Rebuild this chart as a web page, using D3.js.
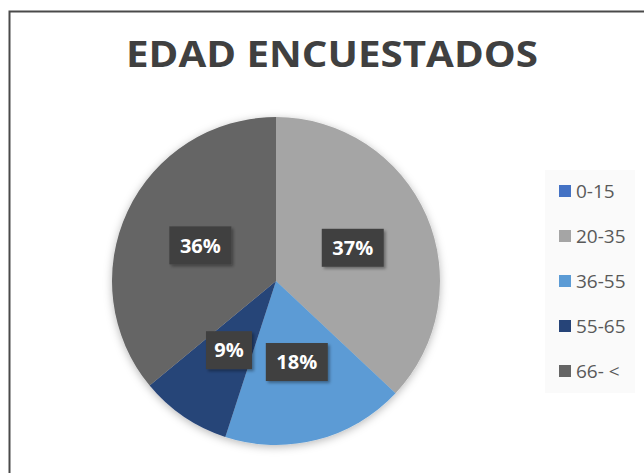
<!DOCTYPE html>
<html>
<head>
<meta charset="utf-8">
<script src="https://cdn.jsdelivr.net/npm/d3@7"></script>
<style>
  body { margin: 0; background: #fff; }
  text { font-family: "Open Sans", "DejaVu Sans", sans-serif; }
</style>
</head>
<body>
<script>
// age groups and their share of respondents (percent)
var categories = ["0-15", "20-35", "36-55", "55-65", "66- <"];
var values = [0, 37, 18, 9, 36];
var colors = ["#4472C4", "#A5A5A5", "#5B9BD5", "#264478", "#656565"];
var chartTitle = "EDAD ENCUESTADOS";

var W = 644, H = 473;
var cx = 276, cy = 281, radius = 164;

var data = categories.map(function(c, i) { return {name: c, value: values[i]}; });
var total = d3.sum(values);

var svg = d3.select("body").append("svg")
    .attr("width", W)
    .attr("height", H);

// soft shadow under the pie
var defs = svg.append("defs");
var f = defs.append("filter").attr("id", "shadow")
    .attr("x", "-20%").attr("y", "-20%").attr("width", "140%").attr("height", "140%");
f.append("feDropShadow").attr("dx", 0).attr("dy", 2)
    .attr("stdDeviation", 4).attr("flood-color", "#000").attr("flood-opacity", 0.28);
var lf = defs.append("filter").attr("id", "lblshadow")
    .attr("x", "-30%").attr("y", "-30%").attr("width", "160%").attr("height", "160%");
lf.append("feDropShadow").attr("dx", 2).attr("dy", 2)
    .attr("stdDeviation", 1.5).attr("flood-color", "#000").attr("flood-opacity", 0.35);

// chart frame (only left and top edges fall inside the picture)
svg.append("path")
    .attr("d", "M9.5," + H + "V11.5H" + W)
    .attr("fill", "none")
    .attr("stroke", "#4a4a4a")
    .attr("stroke-width", 2);

// title
svg.append("text")
    .attr("x", 332)
    .attr("y", 67)
    .attr("text-anchor", "middle")
    .attr("textLength", 412)
    .attr("lengthAdjust", "spacingAndGlyphs")
    .style("font-size", "36px")
    .style("font-weight", "bold")
    .style("fill", "#404040")
    .text(chartTitle);

var color = d3.scaleOrdinal().domain(categories).range(colors);

var pie = d3.pie()
    .sort(null)
    .value(function(d) { return d.value; });

var arc = d3.arc().innerRadius(0).outerRadius(radius);
var labelArc = d3.arc().innerRadius(radius * 0.51).outerRadius(radius * 0.51);

var g = svg.append("g").attr("transform", "translate(" + cx + "," + cy + ")");

var arcs = pie(data);

g.append("g")
    .attr("filter", "url(#shadow)")
  .selectAll("path")
  .data(arcs)
  .enter().append("path")
    .attr("d", arc)
    .attr("fill", function(d) { return color(d.data.name); });

// percentage labels in dark boxes
var lbl = g.selectAll(".lbl")
  .data(arcs.filter(function(d) { return d.data.value > 0; }))
  .enter().append("g")
    .attr("class", "lbl")
    .attr("transform", function(d) {
        var c = labelArc.centroid(d);
        return "translate(" + c[0] + "," + c[1] + ")";
    });

lbl.each(function(d) {
    var s = d3.select(this);
    var txt = Math.round(d.data.value / total * 100) + "%";
    var w = txt.length > 2 ? 62 : 46;
    s.append("rect")
        .attr("x", -w / 2)
        .attr("y", -19)
        .attr("width", w)
        .attr("height", 38)
        .attr("fill", "#404040")
        .attr("filter", "url(#lblshadow)");
    s.append("text")
        .attr("text-anchor", "middle")
        .attr("dy", "0.36em")
        .style("font-size", "20px")
        .style("font-weight", "bold")
        .style("fill", "#fff")
        .text(txt);
});

// legend (faint plot-area style background)
svg.append("rect")
    .attr("x", 545)
    .attr("y", 170)
    .attr("width", 90)
    .attr("height", 223)
    .attr("fill", "#fafafa");

var legend = svg.append("g").attr("transform", "translate(559,191)");
var item = legend.selectAll(".item")
  .data(categories)
  .enter().append("g")
    .attr("class", "item")
    .attr("transform", function(d, i) { return "translate(0," + (i * 45) + ")"; });

item.append("rect")
    .attr("x", 0)
    .attr("y", -6)
    .attr("width", 12)
    .attr("height", 12)
    .attr("fill", function(d) { return color(d); });

item.append("text")
    .attr("x", 17)
    .attr("dy", "0.36em")
    .style("font-size", "19px")
    .style("fill", "#595959")
    .text(function(d) { return d; });
</script>
</body>
</html>
